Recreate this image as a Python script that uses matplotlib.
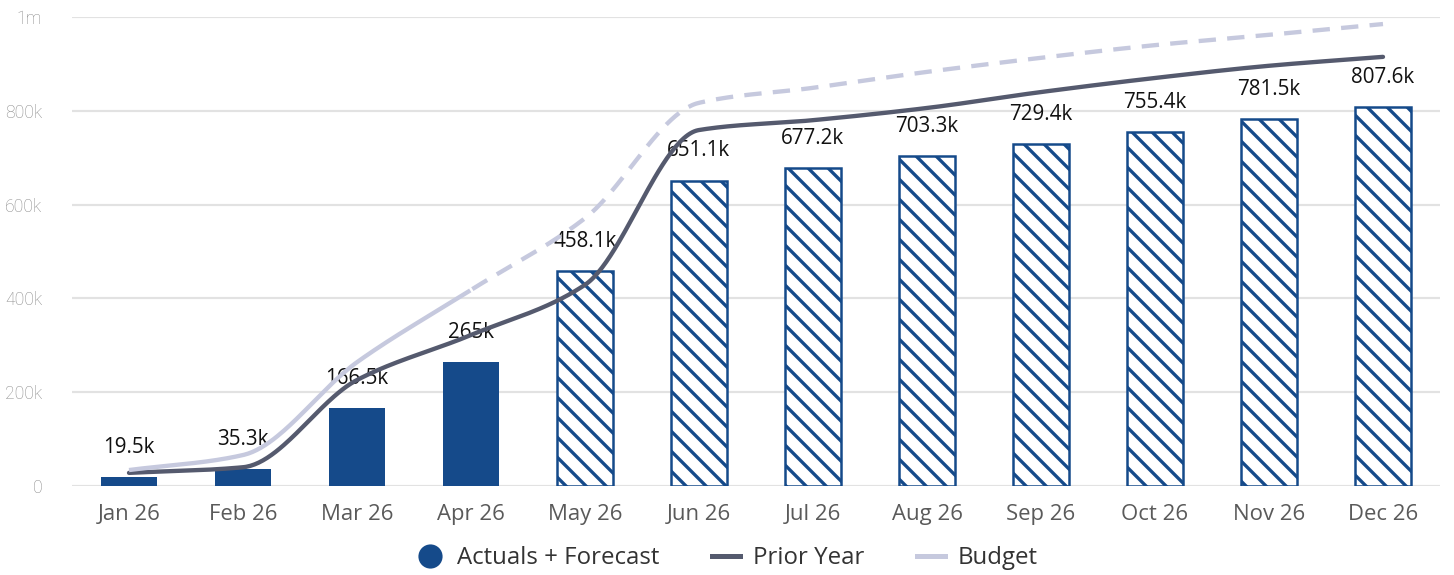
import numpy as np
import matplotlib
matplotlib.use("Agg")
import matplotlib.pyplot as plt
from matplotlib.lines import Line2D

months = ["Jan 26", "Feb 26", "Mar 26", "Apr 26", "May 26", "Jun 26",
          "Jul 26", "Aug 26", "Sep 26", "Oct 26", "Nov 26", "Dec 26"]
actuals = [19.5e3, 35.3e3, 166.5e3, 265e3, 458.1e3, 651.1e3,
           677.2e3, 703.3e3, 729.4e3, 755.4e3, 781.5e3, 807.6e3]
bar_labels = ["19.5k", "35.3k", "166.5k", "265k", "458.1k", "651.1k",
              "677.2k", "703.3k", "729.4k", "755.4k", "781.5k", "807.6k"]
n_actual = 4  # Jan-Apr solid, rest forecast (hatched)
prior_year = [28e3, 40e3, 226e3, 322e3, 429e3, 759e3,
              780e3, 806e3, 840e3, 870e3, 896e3, 915e3]
budget = [34e3, 66e3, 264e3, 418e3, 571e3, 817e3,
          849e3, 883e3, 913e3, 940e3, 962e3, 985e3]
budget_solid_until = 3  # index of last solid budget point
yticks = [0, 200e3, 400e3, 600e3, 800e3, 1e6]
ytick_labels = ["0", "200k", "400k", "600k", "800k", "1m"]

BLUE = "#154a8a"
PRIOR = "#555a6e"
BUDGET = "#c6c9de"

plt.rcParams['font.family'] = ['Open Sans', 'DejaVu Sans']
plt.rcParams['hatch.linewidth'] = 2.0


def pchip(x, y, xs):
    x = np.asarray(x, float); y = np.asarray(y, float)
    h = np.diff(x); d = np.diff(y) / h
    m = np.zeros_like(y)
    for k in range(1, len(y) - 1):
        if d[k - 1] * d[k] > 0:
            w1 = 2 * h[k] + h[k - 1]; w2 = h[k] + 2 * h[k - 1]
            m[k] = (w1 + w2) / (w1 / d[k - 1] + w2 / d[k])
    m[0] = d[0]; m[-1] = d[-1]
    idx = np.clip(np.searchsorted(x, xs) - 1, 0, len(x) - 2)
    t = (xs - x[idx]) / h[idx]
    h00 = 2 * t**3 - 3 * t**2 + 1; h10 = t**3 - 2 * t**2 + t
    h01 = -2 * t**3 + 3 * t**2; h11 = t**3 - t**2
    return h00 * y[idx] + h10 * h[idx] * m[idx] + h01 * y[idx + 1] + h11 * h[idx] * m[idx + 1]


DPI = 120
fig = plt.figure(figsize=(1454 / DPI, 575 / DPI), dpi=DPI)
ax = fig.add_axes([72 / 1454, 89 / 575, (1440 - 72) / 1454, (486 - 17) / 575])

x = np.arange(len(months))
for i, v in enumerate(actuals):
    if i < n_actual:
        ax.bar(x[i], v, width=0.49, color=BLUE, zorder=2)
    else:
        ax.bar(x[i], v, width=0.49, facecolor="white", edgecolor=BLUE,
               hatch="\\\\", linewidth=1.5, zorder=2)
    ax.annotate(bar_labels[i], (x[i], v), xytext=(0, 11.5), textcoords="offset points",
                ha="center", va="bottom", fontsize=12.4, color="#111111", zorder=3)

xs = np.linspace(0, len(months) - 1, 600)
ax.plot(xs, pchip(x, prior_year, xs), color=PRIOR, lw=2.6, zorder=4,
        solid_capstyle="round")
bs = pchip(x, budget, xs)
cut = xs <= budget_solid_until
ax.plot(xs[cut], bs[cut], color=BUDGET, lw=2.6, zorder=4, solid_capstyle="butt")
ax.plot(xs[xs >= budget_solid_until], bs[xs >= budget_solid_until], color=BUDGET,
        lw=2.6, zorder=4, dashes=(4, 2.6))

ax.set_xlim(-0.5, len(months) - 0.5)
ax.set_ylim(0, 1e6)
ax.set_yticks(yticks)
ax.set_yticklabels(ytick_labels)
ax.set_xticks(x)
ax.set_xticklabels(months)
ax.grid(axis="y", color="#e2e2e2", lw=1.3, zorder=0)
ax.set_axisbelow(True)
for s in ax.spines.values():
    s.set_visible(False)
ax.tick_params(axis="x", length=0, pad=11, labelsize=13.3, labelcolor="#5a5a5a")
ax.tick_params(axis="y", length=0, pad=18, labelsize=10.5, labelcolor="#8c8c8c")
for t in ax.get_yticklabels():
    t.set_family(['Roboto', 'DejaVu Sans'])
    t.set_fontweight('light')

handles = [
    Line2D([], [], marker="o", linestyle="none", markersize=13.5, color=BLUE),
    Line2D([], [], color=PRIOR, lw=3),
    Line2D([], [], color=BUDGET, lw=3),
]
fig.legend(handles, ["Actuals + Forecast", "Prior Year", "Budget"],
           loc="center", bbox_to_anchor=(0.5, 1 - 558 / 575), ncol=3,
           frameon=False, fontsize=14.4, handlelength=1.15, handletextpad=0.55,
           columnspacing=2.2, labelcolor="#333333")

fig.savefig("out.png", dpi=DPI)
